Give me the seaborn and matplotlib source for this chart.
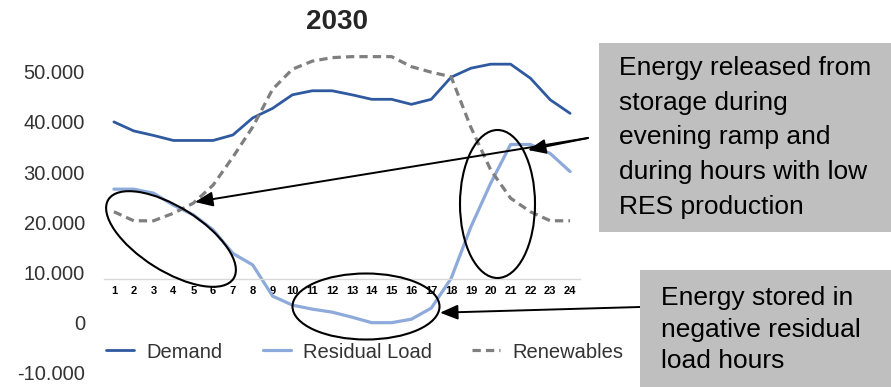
import numpy as np
import pandas as pd
import matplotlib.pyplot as plt
import seaborn as sns
from matplotlib.patches import Ellipse, Rectangle
from matplotlib.ticker import FuncFormatter

# hourly values
hours = list(range(1, 25))
demand = [40000, 38200, 37300, 36300, 36300, 36300, 37400, 40800, 42700, 45400, 46200, 46200,
          45400, 44500, 44500, 43500, 44500, 48900, 50700, 51500, 51500, 48700, 44400, 41700]
residual = [26600, 26600, 25800, 23400, 21500, 18500, 13800, 11500, 5300, 3500, 2700, 2100,
            1100, 0, 0, 700, 2900, 8800, 19100, 27800, 35500, 35500, 33700, 30100]
renewables = [22100, 20300, 20300, 21800, 23800, 27400, 33000, 39000, 46500, 50500, 52100, 52800,
              53000, 53000, 53000, 51000, 49900, 49000, 38900, 30400, 24800, 22100, 20300, 20300]
y_ticks = [-10000, 0, 10000, 20000, 30000, 40000, 50000]

box1_lines = ['Energy released from', 'storage during', 'evening ramp and',
              'during hours with low', 'RES production']
box2_lines = ['Energy stored in', 'negative residual', 'load hours']

df = pd.DataFrame({'Hour': hours, 'Demand': demand,
                   'Residual Load': residual, 'Renewables': renewables})

sns.set_style('white')
plt.rcParams['font.family'] = ['Liberation Sans', 'DejaVu Sans']

W, H = 891, 387
fig = plt.figure(figsize=(W / 100, H / 100), dpi=100)
ax = fig.add_axes([104 / W, (H - 377.9) / H, 476 / W, 331.3 / H])

sns.lineplot(data=df, x='Hour', y='Demand', color='#2f5aa0', lw=2.0,
             label='Demand', ax=ax)
sns.lineplot(data=df, x='Hour', y='Residual Load', color='#8eaadb', lw=2.3,
             label='Residual Load', ax=ax)
sns.lineplot(data=df, x='Hour', y='Renewables', color='#7f7f7f', lw=2.3,
             ls=(0, (2.6, 1.6)), label='Renewables', ax=ax)

ax.set_xlim(0.5, 24.5)
ax.set_ylim(-11000, 55000)
ax.set_xticks(hours)
ax.set_yticks(y_ticks)
ax.yaxis.set_major_formatter(FuncFormatter(lambda v, p: f'{v:,.0f}'.replace(',', '.')))
ax.set_xlabel('')
ax.set_ylabel('')

for s in ['top', 'right', 'left']:
    ax.spines[s].set_visible(False)
ax.spines['bottom'].set_position(('data', 8700))
ax.spines['bottom'].set_color('#d9d9d9')
ax.spines['bottom'].set_linewidth(1)

ax.tick_params(axis='x', length=0, pad=5, labelsize=8, labelcolor='black')
ax.tick_params(axis='y', length=0, pad=13.7, labelsize=14.5, labelcolor='#333333')
plt.setp(ax.get_xticklabels(), fontweight='bold')

leg = ax.legend(loc='center left', bbox_to_anchor=(106 / W, 1 - 352 / H),
                bbox_transform=fig.transFigure, ncol=3, frameon=False, fontsize=14.5,
                handlelength=1.4, handletextpad=0.6, columnspacing=2.0,
                borderpad=0, borderaxespad=0)
for t in leg.get_texts():
    t.set_color('#333333')

fig.text(337 / W, 1 - 29.3 / H, '2030', ha='center', va='baseline',
         fontsize=20, fontweight='bold')

# grey callout boxes
fig.add_artist(Rectangle((599 / W, 1 - 232 / H), (W - 599) / W, (232 - 43) / H,
                         transform=fig.transFigure, facecolor='#bfbfbf', edgecolor='none'))
fig.add_artist(Rectangle((640 / W, 0), (W - 640) / W, (H - 270) / H,
                         transform=fig.transFigure, facecolor='#bfbfbf', edgecolor='none'))
for i, line in enumerate(box1_lines):
    fig.text(619 / W, 1 - (75 + i * 34.75) / H, line, fontsize=19, va='baseline', color='black')
for i, line in enumerate(box2_lines):
    fig.text(661 / W, 1 - (305 + i * 31.7) / H, line, fontsize=19, va='baseline', color='black')

# ellipses around the highlighted hours (figure pixel positions)
for cx, cy, w, h, ang in [(171, 239, 148, 64, -32.2), (366, 306.5, 147, 66, 0),
                          (497.5, 204, 75, 148, 0)]:
    fig.add_artist(Ellipse((cx / 100, (H - cy) / 100), w / 100, h / 100, angle=ang,
                           transform=fig.dpi_scale_trans, fill=False,
                           edgecolor='black', lw=1.5))

arrow = dict(arrowstyle='-|>,head_length=0.6,head_width=0.25', color='black', lw=1.4,
             shrinkA=0, shrinkB=0, mutation_scale=18)
for (x0, y0), (x1, y1) in [((588, 138), (195, 202)), ((588, 138), (528, 150)),
                           ((640, 307), (440, 312.7))]:
    ax.annotate('', xy=(x1, H - y1), xycoords='figure pixels',
                xytext=(x0, H - y0), textcoords='figure pixels',
                arrowprops=arrow, annotation_clip=False)

fig.savefig('out.png', dpi=100)
